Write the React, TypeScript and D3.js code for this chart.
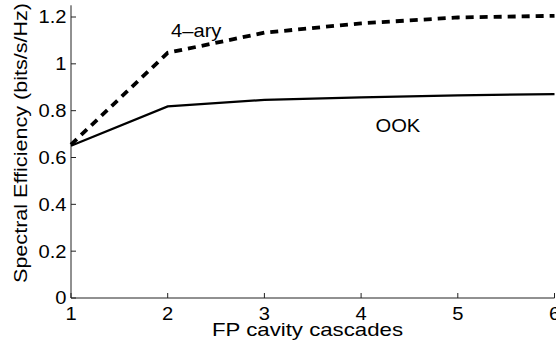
import * as d3 from 'd3';

const cascades = [1, 2, 3, 4, 5, 6];
const ook = [0.65, 0.818, 0.846, 0.857, 0.865, 0.871];
const quaternary = [0.655, 1.047, 1.133, 1.173, 1.198, 1.205];
const xTicks = [1, 2, 3, 4, 5, 6];
const yTicks = [0, 0.2, 0.4, 0.6, 0.8, 1, 1.2];

const W = 556;
const H = 344;
const font = '"Liberation Sans", Arial, sans-serif';
const stretch = 1.12;

// text drawn slightly wider than Arial, like the original export
const Label = ({ x, y, anchor = 'start', size = 18, rotate = 0, dy, children }: any) => (
  <text
    transform={`translate(${x},${y}) rotate(${rotate}) scale(${stretch},1)`}
    textAnchor={anchor}
    dy={dy}
    fontFamily={font}
    fontSize={size}
    fill="#000"
  >
    {children}
  </text>
);

const App = () => {
  const x = d3.scaleLinear().domain([1, 6]).range([71, 554.5]);
  const y = d3.scaleLinear().domain([0, 1.25]).range([298, 5.3]);

  const line = d3
    .line<number>()
    .x((d, i) => x(cascades[i]))
    .y((d) => y(d));

  return (
    <svg
      width={W}
      height={H}
      style={{ position: 'absolute', left: 0, top: 0, background: '#fff' }}
    >
      {/* axes */}
      <line x1={x(1)} x2={x(1)} y1={y(0)} y2={y(1.25)} stroke="#222" strokeWidth={1} />
      <line x1={x(1)} x2={x(6)} y1={y(0)} y2={y(0)} stroke="#222" strokeWidth={1} />
      {xTicks.map((t) => (
        <g key={'x' + t}>
          <line x1={x(t)} x2={x(t)} y1={y(0)} y2={y(0) - 5} stroke="#222" />
          <Label x={x(t)} y={320} anchor="middle">
            {t}
          </Label>
        </g>
      ))}
      {yTicks.map((t) => (
        <g key={'y' + t}>
          <line x1={x(1)} x2={x(1) + 5} y1={y(t)} y2={y(t)} stroke="#222" />
          <Label x={66.5} y={y(t)} dy="0.36em" anchor="end">
            {t}
          </Label>
        </g>
      ))}
      <text
        x={307.5}
        y={336}
        textAnchor="middle"
        fontFamily={font}
        fontSize={18.5}
        textLength={191}
        lengthAdjust="spacingAndGlyphs"
      >
        FP cavity cascades
      </text>
      <text
        transform="translate(27,143) rotate(-90)"
        textAnchor="middle"
        fontFamily={font}
        fontSize={18.5}
        textLength={280}
        lengthAdjust="spacingAndGlyphs"
      >
        Spectral Efficiency (bits/s/Hz)
      </text>

      {/* series */}
      <path d={line(ook) || ''} fill="none" stroke="#000" strokeWidth={2.2} />
      <path
        d={line(quaternary) || ''}
        fill="none"
        stroke="#000"
        strokeWidth={3.8}
        strokeDasharray="8,6"
      />
      <Label x={171} y={36.7}>4–ary</Label>
      <Label x={375.5} y={131.7}>OOK</Label>
    </svg>
  );
};

export default App;
